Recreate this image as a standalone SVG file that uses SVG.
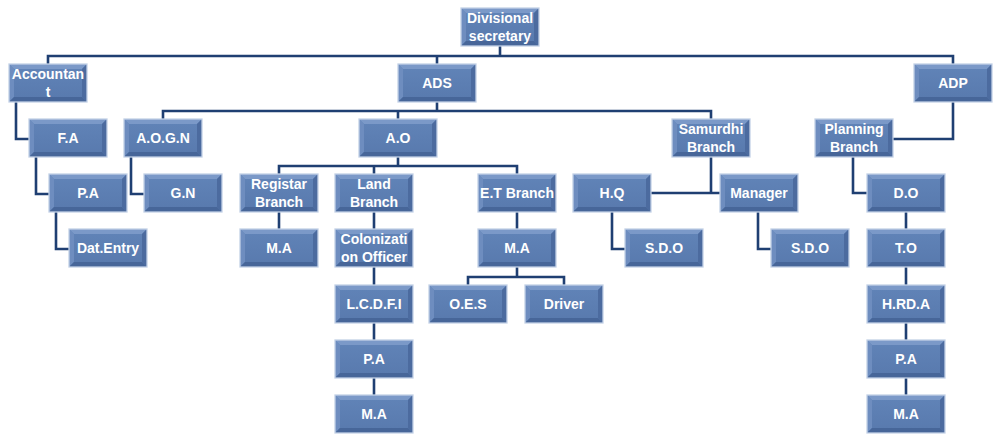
<svg xmlns="http://www.w3.org/2000/svg" width="996" height="438" viewBox="0 0 996 438">
<style>
.t{font-family:"Liberation Sans",Arial,sans-serif;font-weight:bold;font-size:14px;fill:#ffffff;text-anchor:middle}
.c{fill:none;stroke:#1f3f72;stroke-width:2.6;stroke-linejoin:miter}
</style>
<defs>
<linearGradient id="face" x1="0" y1="0" x2="0" y2="1">
<stop offset="0" stop-color="#6184b8"/>
<stop offset="1" stop-color="#5879ad"/>
</linearGradient>
<g id="box">
<rect x="0" y="0" width="78" height="38" fill="url(#face)"/>
<polygon points="0,0 78,0 73,5 5,5" fill="#7b99c8"/>
<polygon points="0,0 5,5 5,33 0,38" fill="#6e8dbf"/>
<polygon points="78,0 78,38 73,33 73,5" fill="#4c6b9f"/>
<polygon points="0,38 78,38 73,33 5,33" fill="#476699"/>
<rect x="0" y="0" width="78" height="38" fill="none" stroke="#c3d1e6" stroke-width="1.3"/>
</g>
</defs>
<rect width="996" height="438" fill="#ffffff"/>
<g id="connectors">
<path class="c" d="M500,46 V56 M48,64 V56 H953 V64 M437,56 V64"/>
<path class="c" d="M437,102 V111 M163,119 V111 H711 V119 M398,111 V119"/>
<path class="c" d="M953,102 V139 H893"/>
<path class="c" d="M16,102 V139 H29 M36,157 V194 H49 M56,212 V249 H69"/>
<path class="c" d="M131,157 V194 H144"/>
<path class="c" d="M398,157 V166 M279,174 V166 H517 V174 M374,166 V174"/>
<path class="c" d="M279,212 V229"/>
<path class="c" d="M374,212 V229 M374,267 V285 M374,323 V340 M374,378 V395"/>
<path class="c" d="M517,212 V229 M517,267 V277 M468,285 V277 H564 V285"/>
<path class="c" d="M711,157 V193 M651,193 H720"/>
<path class="c" d="M612,212 V249 H625 M758,212 V249 H771"/>
<path class="c" d="M853,157 V193 H867"/>
<path class="c" d="M906,212 V229 M906,267 V285 M906,323 V340 M906,378 V395"/>
</g>
<g id="ds"><use href="#box" x="461" y="8"/><text class="t" x="500" y="23">Divisional</text><text class="t" x="500" y="41">secretary</text></g>
<g id="acc"><use href="#box" x="9" y="64"/><text class="t" x="48" y="79">Accountan</text><text class="t" x="48" y="97">t</text></g>
<g id="ads"><use href="#box" x="398" y="64"/><text class="t" x="437" y="88">ADS</text></g>
<g id="adp"><use href="#box" x="914" y="64"/><text class="t" x="953" y="88">ADP</text></g>
<g id="fa"><use href="#box" x="29" y="119"/><text class="t" x="68" y="143">F.A</text></g>
<g id="aogn"><use href="#box" x="124" y="119"/><text class="t" x="163" y="143">A.O.G.N</text></g>
<g id="ao"><use href="#box" x="359" y="119"/><text class="t" x="398" y="143">A.O</text></g>
<g id="sam"><use href="#box" x="672" y="119"/><text class="t" x="711" y="134">Samurdhi</text><text class="t" x="711" y="152">Branch</text></g>
<g id="plan"><use href="#box" x="815" y="119"/><text class="t" x="854" y="134">Planning</text><text class="t" x="854" y="152">Branch</text></g>
<g id="pa1"><use href="#box" x="49" y="174"/><text class="t" x="88" y="198">P.A</text></g>
<g id="gn"><use href="#box" x="144" y="174"/><text class="t" x="183" y="198">G.N</text></g>
<g id="reg"><use href="#box" x="240" y="174"/><text class="t" x="279" y="189">Registar</text><text class="t" x="279" y="207">Branch</text></g>
<g id="land"><use href="#box" x="335" y="174"/><text class="t" x="374" y="189">Land</text><text class="t" x="374" y="207">Branch</text></g>
<g id="et"><use href="#box" x="478" y="174"/><text class="t" x="517" y="198">E.T Branch</text></g>
<g id="hq"><use href="#box" x="573" y="174"/><text class="t" x="612" y="198">H.Q</text></g>
<g id="mgr"><use href="#box" x="720" y="174"/><text class="t" x="759" y="198">Manager</text></g>
<g id="do"><use href="#box" x="867" y="174"/><text class="t" x="906" y="198">D.O</text></g>
<g id="de"><use href="#box" x="69" y="229"/><text class="t" x="108" y="253">Dat.Entry</text></g>
<g id="ma1"><use href="#box" x="240" y="229"/><text class="t" x="279" y="253">M.A</text></g>
<g id="col"><use href="#box" x="335" y="229"/><text class="t" x="374" y="244">Colonizati</text><text class="t" x="374" y="262">on Officer</text></g>
<g id="ma2"><use href="#box" x="478" y="229"/><text class="t" x="517" y="253">M.A</text></g>
<g id="sdo1"><use href="#box" x="625" y="229"/><text class="t" x="664" y="253">S.D.O</text></g>
<g id="sdo2"><use href="#box" x="771" y="229"/><text class="t" x="810" y="253">S.D.O</text></g>
<g id="to"><use href="#box" x="867" y="229"/><text class="t" x="906" y="253">T.O</text></g>
<g id="lcdfi"><use href="#box" x="335" y="285"/><text class="t" x="374" y="309">L.C.D.F.I</text></g>
<g id="oes"><use href="#box" x="429" y="285"/><text class="t" x="468" y="309">O.E.S</text></g>
<g id="drv"><use href="#box" x="525" y="285"/><text class="t" x="564" y="309">Driver</text></g>
<g id="hrda"><use href="#box" x="867" y="285"/><text class="t" x="906" y="309">H.RD.A</text></g>
<g id="pa2"><use href="#box" x="335" y="340"/><text class="t" x="374" y="364">P.A</text></g>
<g id="pa3"><use href="#box" x="867" y="340"/><text class="t" x="906" y="364">P.A</text></g>
<g id="ma3"><use href="#box" x="335" y="395"/><text class="t" x="374" y="419">M.A</text></g>
<g id="ma4"><use href="#box" x="867" y="395"/><text class="t" x="906" y="419">M.A</text></g>
</svg>
